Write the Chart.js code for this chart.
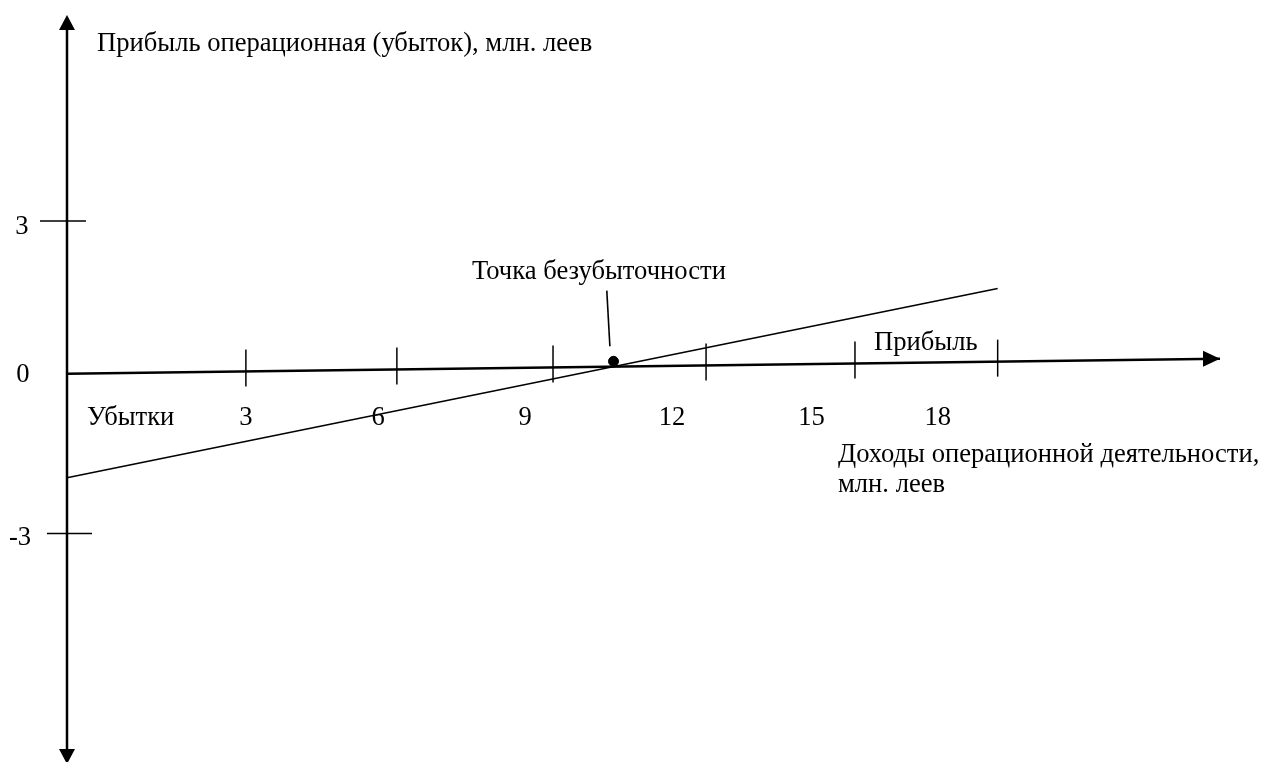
<!DOCTYPE html>
<html><head><meta charset="utf-8">
<script src="https://cdn.jsdelivr.net/npm/chart.js@4.4.1/dist/chart.umd.min.js"></script>
<style>html,body{margin:0;padding:0;background:#fff}#wrap{width:1263px;height:762px}</style>
</head><body><div id="wrap"><canvas id="c"></canvas></div>
<script>
// ---- data ----
const revenueAxisX = [0, 22.3];          // revenue axis, slightly tilted as drawn
const revenueAxisY = [0, 0.29];
const profitX = [0, 18.0];               // operating profit line
const profitY = [-2.0, 1.64];
const breakEvenX = [10.57];
const breakEvenY = [0.24];
const leaderX = [10.44, 10.50];          // pointer line to break-even label
const leaderY = [1.60, 0.53];
const xTickValues = [3.46, 6.38, 9.40, 12.36, 15.24, 18.0];
const xTickLabels = ["3", "6", "9", "12", "15", "18"];
const xLabelValues = [3.46, 6.02, 8.86, 11.70, 14.40, 16.84];
const yTickValues = [2.94, -3.07];
const yTickLabels = ["3", "-3"];
const zeroLabel = "0";
const yAxisTitle = "Прибыль операционная (убыток), млн. леев";
const xAxisTitle = ["Доходы операционной деятельности,", "млн. леев"];
const lossLabel = "Убытки";
const profitLabel = "Прибыль";
const breakEvenLabel = "Точка безубыточности";

const pts = (xs, ys) => xs.map((x, i) => ({x, y: ys[i]}));
const FONT = '26.6px "Liberation Serif", "Times New Roman", serif';

const drawPlugin = {
  id: 'drawAxes',
  afterDatasetsDraw(chart) {
    const ctx = chart.ctx, xs = chart.scales.x, ys = chart.scales.y;
    const px = v => xs.getPixelForValue(v), py = v => ys.getPixelForValue(v);
    const axisYAt = x => revenueAxisY[0] + (revenueAxisY[1] - revenueAxisY[0]) * (x - revenueAxisX[0]) / (revenueAxisX[1] - revenueAxisX[0]);
    ctx.save();
    ctx.strokeStyle = '#000'; ctx.fillStyle = '#000';
    // vertical axis
    const x0 = px(0), yTop = py(ys.max), yBot = py(ys.min) + 8;
    ctx.lineWidth = 2.5;
    ctx.beginPath(); ctx.moveTo(x0, yTop + 6); ctx.lineTo(x0, yBot - 6); ctx.stroke();
    ctx.beginPath(); ctx.moveTo(x0, yTop); ctx.lineTo(x0 - 8, yTop + 15); ctx.lineTo(x0 + 8, yTop + 15); ctx.closePath(); ctx.fill();
    ctx.beginPath(); ctx.moveTo(x0, yBot); ctx.lineTo(x0 - 8, yBot - 15); ctx.lineTo(x0 + 8, yBot - 15); ctx.closePath(); ctx.fill();
    // horizontal arrowhead
    const ax = px(revenueAxisX[1]), ay = py(revenueAxisY[1]);
    ctx.beginPath(); ctx.moveTo(ax, ay); ctx.lineTo(ax - 17, ay - 8); ctx.lineTo(ax - 17, ay + 8); ctx.closePath(); ctx.fill();
    // y ticks
    ctx.lineWidth = 1.5;
    yTickValues.forEach((v, i) => {
      const l = i === 0 ? 27 : 20, r = i === 0 ? 19 : 25;
      ctx.beginPath(); ctx.moveTo(x0 - l, py(v)); ctx.lineTo(x0 + r, py(v)); ctx.stroke();
    });
    // x ticks
    xTickValues.forEach(v => {
      const cy = py(axisYAt(v));
      ctx.beginPath(); ctx.moveTo(px(v), cy - 22); ctx.lineTo(px(v), cy + 15); ctx.stroke();
    });
    // texts
    ctx.font = FONT; ctx.textBaseline = 'alphabetic';
    ctx.textAlign = 'left';
    ctx.fillText(yAxisTitle, x0 + 30, 51);
    ctx.textAlign = 'center';
    yTickValues.forEach((v, i) => ctx.fillText(yTickLabels[i], i === 0 ? 22 : 20, py(v) + (i === 0 ? 13 : 12)));
    ctx.fillText(zeroLabel, 23, py(0) + 8);
    const ly = py(0) + 51;
    xLabelValues.forEach((v, i) => ctx.fillText(xTickLabels[i], px(v), ly));
    ctx.textAlign = 'left';
    ctx.fillText(lossLabel, x0 + 20, ly);
    ctx.fillText(xAxisTitle[0], 838, 462);
    ctx.fillText(xAxisTitle[1], 838, 492);
    ctx.fillText(breakEvenLabel, 472, 279);
    ctx.fillText(profitLabel, 874, 350);
    ctx.restore();
  }
};

new Chart(document.getElementById('c'), {
  type: 'scatter',
  data: {
    datasets: [
      {data: pts(revenueAxisX, revenueAxisY), showLine: true, borderColor: '#000', borderWidth: 2.5, pointRadius: 0},
      {data: pts(profitX, profitY), showLine: true, borderColor: '#000', borderWidth: 1.6, pointRadius: 0},
      {data: pts(leaderX, leaderY), showLine: true, borderColor: '#000', borderWidth: 1.6, pointRadius: 0},
      {data: pts(breakEvenX, breakEvenY), showLine: false, pointRadius: 5, backgroundColor: '#000', borderColor: '#000'}
    ]
  },
  options: {
    responsive: true, maintainAspectRatio: false, animation: false,
    layout: {padding: {left: 67, right: 43, top: 15, bottom: 2}},
    plugins: {legend: {display: false}, tooltip: {enabled: false}},
    scales: {
      x: {type: 'linear', min: 0, max: 22.3, display: false},
      y: {type: 'linear', min: -7.35, max: 6.9, display: false}
    },
    clip: false
  },
  plugins: [drawPlugin]
});
</script></body></html>
